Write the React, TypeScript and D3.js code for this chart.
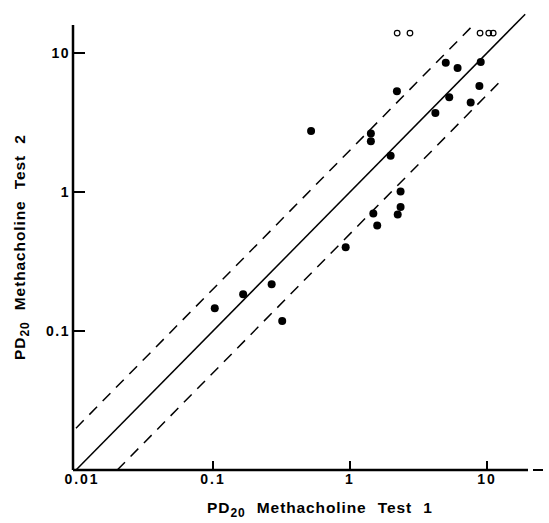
import * as d3 from "d3";

// PD20 values (test 1, test 2)
const test1 = [5.0, 6.1, 9.0, 8.8, 5.3, 7.6, 4.2, 2.2, 0.52, 1.42, 1.42, 1.98, 2.34, 2.34, 2.23, 1.48, 1.58, 0.93, 0.103, 0.166, 0.268, 0.32];
const test2 = [8.5, 7.8, 8.6, 5.8, 4.8, 4.4, 3.7, 5.3, 2.75, 2.64, 2.32, 1.82, 1.01, 0.78, 0.69, 0.70, 0.575, 0.40, 0.146, 0.184, 0.217, 0.118];
// open circles: test 2 off scale (> 10)
const openTest1 = [2.21, 2.74, 8.9, 10.3, 11.1];
const openTest2 = [13.9, 13.9, 13.9, 13.9, 13.9];
const xTicks = [0.01, 0.1, 1, 10];
const xTickLabels = ["0.01", "0.1", "1", "10"];
const yTicks = [0.1, 1, 10];
const yTickLabels = ["0.1", "1", "10"];

const W = 549;
const H = 523;

const App = () => {
  const x = d3.scaleLog().domain([0.01, 10]).range([76, 487]);
  const y = d3.scaleLog().domain([0.01, 10]).range([470, 53]);
  const font = "'Liberation Sans', Arial, sans-serif";
  const line = d3.line<[number, number]>().x(d => x(d[0])).y(d => y(d[1]));

  const x0 = x(0.01);
  const y0 = y(0.01);

  return (
    <svg width={W} height={H} style={{ position: "absolute", left: 0, top: 0 }}>
      <rect width={W} height={H} fill="#fff" />

      {/* reference lines */}
      <path d={line([[0.01, 0.01], [19, 19]]) || ""} stroke="#000" strokeWidth={1.5} fill="none" />
      <path d={line([[0.01, 0.02], [8.2, 16.4]]) || ""} stroke="#000" strokeWidth={1.5} fill="none" strokeDasharray="11 8" />
      <path d={line([[0.02, 0.01], [13, 6.5]]) || ""} stroke="#000" strokeWidth={1.5} fill="none" strokeDasharray="11 8" />

      {/* axes */}
      <line x1={x0 - 3} x2={x0 - 3} y1={25} y2={y0} stroke="#000" strokeWidth={2.5} />
      <line x1={x0 - 3} x2={528} y1={y0} y2={y0} stroke="#000" strokeWidth={2.5} />
      <line x1={533} x2={543} y1={y0} y2={y0} stroke="#000" strokeWidth={2} />

      {yTicks.map((t, i) => (
        <g key={"y" + i}>
          <line x1={x0 - 3} x2={x0 + 9} y1={y(t)} y2={y(t)} stroke="#000" strokeWidth={2} />
          <text x={x0 - 6} y={y(t) + 5} textAnchor="end" fontFamily={font} fontWeight="bold" fontSize={14} letterSpacing={1.5}>
            {yTickLabels[i]}
          </text>
        </g>
      ))}
      {xTicks.map((t, i) => (
        <g key={"x" + i}>
          {i > 0 && <line x1={x(t)} x2={x(t)} y1={y0} y2={y0 - 9} stroke="#000" strokeWidth={2} />}
          <text x={i === 0 ? x(t) + 6 : x(t)} y={y0 + 14} textAnchor="middle" fontFamily={font} fontWeight="bold" fontSize={14} letterSpacing={2}>
            {xTickLabels[i]}
          </text>
        </g>
      ))}

      {/* titles */}
      <text x={320} y={513} textAnchor="middle" fontFamily={font} fontWeight="bold" fontSize={15.5} letterSpacing={0.9} wordSpacing={6}>
        PD<tspan fontSize={12} dy={4}>20</tspan><tspan dy={-4}> Methacholine Test 1</tspan>
      </text>
      <text transform={`translate(25,247) rotate(-90)`} textAnchor="middle" fontFamily={font} fontWeight="bold" fontSize={15.5} letterSpacing={0.9} wordSpacing={6}>
        PD<tspan fontSize={12} dy={4}>20</tspan><tspan dy={-4}> Methacholine Test 2</tspan>
      </text>

      {/* points */}
      {test1.map((v, i) => (
        <circle key={"p" + i} cx={x(v)} cy={y(test2[i])} r={4} fill="#000" />
      ))}
      {openTest1.map((v, i) => (
        <circle key={"o" + i} cx={x(v)} cy={y(openTest2[i])} r={2.8} fill="none" stroke="#000" strokeWidth={1.2} />
      ))}
    </svg>
  );
};

export default App;
